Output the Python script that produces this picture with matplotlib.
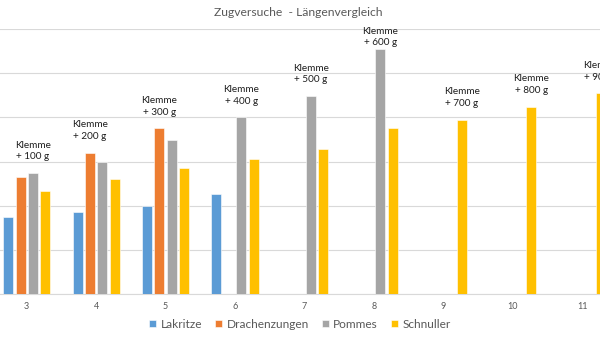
import matplotlib.pyplot as plt
import numpy as np

# Daten
kategorien = [3, 4, 5, 6, 7, 8, 9, 10, 11]
gewichte = [100, 200, 300, 400, 500, 600, 700, 800, 900]
lakritze = [8.75, 9.25, 10.0, 11.3, np.nan, np.nan, np.nan, np.nan, np.nan]
drachenzungen = [13.25, 16.0, 18.75, np.nan, np.nan, np.nan, np.nan, np.nan, np.nan]
pommes = [13.7, 15.0, 17.4, 20.0, 22.4, 27.7, np.nan, np.nan, np.nan]
schnuller = [11.7, 13.0, 14.25, 15.25, 16.4, 18.75, 19.7, 21.2, 22.7]

serien = ['Lakritze', 'Drachenzungen', 'Pommes', 'Schnuller']
farben = ['#5B9BD5', '#ED7D31', '#A5A5A5', '#FFC000']

plt.rcParams['font.family'] = ['Lato', 'DejaVu Sans']

fig = plt.figure(figsize=(6, 3.38), dpi=100)
ax = fig.add_axes([-8 / 600, 1 - 294 / 338, 625 / 600, 265 / 338])

x = np.array(kategorien, dtype=float)
abstand = 0.179
breite = 0.144
werte = [lakritze, drachenzungen, pommes, schnuller]

#Balken zeichnen
for i, (name, daten, cor) in enumerate(zip(serien, werte, farben)):
    ax.bar(x + (i - 1.5) * abstand, daten, width=breite, color=cor,
           edgecolor='white', linewidth=0.4, label=name, zorder=3)

#Beschriftung ueber dem hoechsten Balken jeder Gruppe
tabelle = np.array(werte, dtype=float)
for j, g in enumerate(gewichte):
    spalte = tabelle[:, j]
    k = int(np.nanargmax(spalte))
    y = min(spalte[k] + 2.5, 29.1)
    ax.text(x[j] + (k - 1.5) * abstand, y, 'Klemme\n+ %d g' % g,
            ha='center', va='center', fontsize=7.2, color='#1f1f1f',
            linespacing=1.4, clip_on=False, zorder=4)

#Achsen
ax.set_xlim(2.5, 11.5)
ax.set_ylim(0, 30)
ax.set_yticks(np.arange(0, 31, 5))
ax.set_yticklabels([])
ax.set_xticks(kategorien)
ax.set_xticklabels([str(k) for k in kategorien], fontsize=6.5, color='#595959')
ax.tick_params(length=0, pad=6)
ax.grid(axis='y', color='#D9D9D9', linewidth=0.8, zorder=0)
for s in ['top', 'right', 'left']:
    ax.spines[s].set_visible(False)
ax.spines['bottom'].set_color('#D9D9D9')
ax.spines['bottom'].set_linewidth(0.8)

#Titel und Legende
fig.text(0.497, 1 - 12 / 338, 'Zugversuche  - Längenvergleich', ha='center',
         va='center', fontsize=8.7, color='#595959')
fig.legend(loc='center', bbox_to_anchor=(0.5, 1 - 324 / 338), ncol=4,
           frameon=False, fontsize=8.6, labelcolor='#595959',
           handlelength=0.55, handleheight=0.55, handletextpad=0.4,
           columnspacing=1.1)

plt.savefig('out.png', dpi=100)
